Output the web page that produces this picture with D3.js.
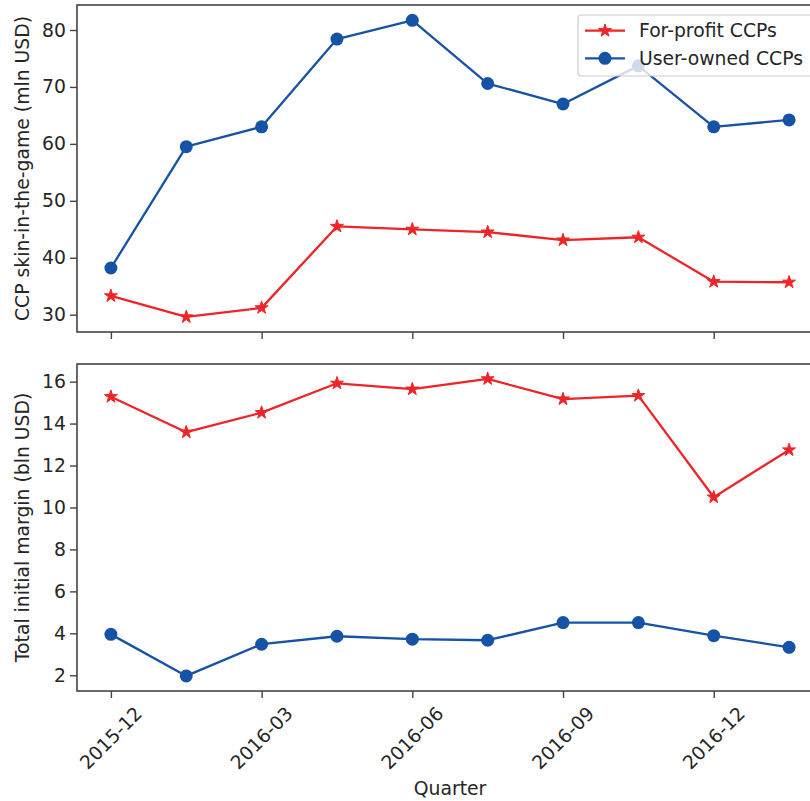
<!DOCTYPE html>
<html>
<head>
<meta charset="utf-8">
<script src="https://cdn.jsdelivr.net/npm/d3@7"></script>
<style>
  body { margin: 0; background: #fff; }
  svg { display: block; font-family: 'DejaVu Sans', sans-serif; }
</style>
</head>
<body>
<div id="chart"></div>
<script>
const quarters = ['2015-12', '2016-01', '2016-03', '2016-04', '2016-06', '2016-07', '2016-09', '2016-10', '2016-12', '2017-01']
const tickLabels = ['2015-12', '2016-03', '2016-06', '2016-09', '2016-12']
const tickIndex = [0, 2, 4, 6, 8]

const skinForProfit = [33.3, 29.6, 31.2, 45.5, 45.0, 44.5, 43.1, 43.6, 35.8, 35.7]
const skinUserOwned = [38.2, 59.5, 63.0, 78.4, 81.7, 70.6, 67.0, 73.7, 63.0, 64.2]
const marginForProfit = [15.28, 13.59, 14.52, 15.92, 15.64, 16.13, 15.17, 15.33, 10.49, 12.74]
const marginUserOwned = [3.95, 1.97, 3.48, 3.86, 3.72, 3.67, 4.51, 4.51, 3.89, 3.33]

const skinTicks = [30, 40, 50, 60, 70, 80]
const marginTicks = [2, 4, 6, 8, 10, 12, 14, 16]

const red = '#ee2528'
const blue = '#1652a5'
const spine = '#444'
const textColor = '#262626'
const fontSize = 18.8

const width = 810
const height = 801

const svg = d3.select('#chart').append('svg')
  .attr('width', width)
  .attr('height', height)

const x = d3.scaleLinear().domain([-0.45, 9.45]).range([77, 823])

const panels = [
  { top: 5, bottom: 332, domain: [26.96, 84.39], ticks: skinTicks, forProfit: skinForProfit, userOwned: skinUserOwned, label: 'CCP skin-in-the-game (mln USD)', xLabels: false },
  { top: 364, bottom: 691, domain: [1.25, 16.84], ticks: marginTicks, forProfit: marginForProfit, userOwned: marginUserOwned, label: 'Total initial margin (bln USD)', xLabels: true },
]

const star = d3.symbol().type(d3.symbolStar).size(52)

function drawSeries(g, values, y, color, kind) {
  const line = d3.line().x((d, i) => x(i)).y(d => y(d))
  g.append('path')
    .datum(values)
    .attr('fill', 'none')
    .attr('stroke', color)
    .attr('stroke-width', 2.3)
    .attr('stroke-linejoin', 'round')
    .attr('d', line)

  if (kind === 'star') {
    g.selectAll(null).data(values).join('path')
      .attr('d', star)
      .attr('transform', (d, i) => `translate(${x(i)},${y(d)})`)
      .attr('fill', color)
      .attr('stroke', color)
      .attr('stroke-width', 1)
  } else {
    g.selectAll(null).data(values).join('circle')
      .attr('cx', (d, i) => x(i))
      .attr('cy', d => y(d))
      .attr('r', 6.5)
      .attr('fill', color)
  }
}

panels.forEach(p => {
  const y = d3.scaleLinear().domain(p.domain).range([p.bottom, p.top])
  const g = svg.append('g')

  const clip = 'clip-' + p.top
  svg.append('clipPath').attr('id', clip)
    .append('rect').attr('x', 0).attr('y', p.top).attr('width', width).attr('height', p.bottom - p.top)

  const series = g.append('g').attr('clip-path', `url(#${clip})`)
  drawSeries(series, p.forProfit, y, red, 'star')
  drawSeries(series, p.userOwned, y, blue, 'circle')

  // frame
  g.append('rect')
    .attr('x', x.range()[0])
    .attr('y', p.top)
    .attr('width', x.range()[1] - x.range()[0])
    .attr('height', p.bottom - p.top)
    .attr('fill', 'none')
    .attr('stroke', spine)
    .attr('stroke-width', 1.6)

  // y axis
  const yAxis = g.append('g')
    .attr('transform', `translate(${x.range()[0]},0)`)
    .call(d3.axisLeft(y).tickValues(p.ticks).tickSize(7).tickPadding(4))
  yAxis.select('.domain').remove()
  yAxis.selectAll('line').attr('stroke', spine).attr('stroke-width', 1.4)
  yAxis.selectAll('text').attr('fill', textColor).style('font-size', fontSize + 'px').style('font-family', 'DejaVu Sans')

  // x axis
  const xAxis = g.append('g')
    .attr('transform', `translate(0,${p.bottom})`)
    .call(d3.axisBottom(x).tickValues(tickIndex).tickSize(7).tickFormat(''))
  xAxis.select('.domain').remove()
  xAxis.selectAll('line').attr('stroke', spine).attr('stroke-width', 1.4)

  if (p.xLabels) {
    g.selectAll(null).data(tickIndex).join('text')
      .attr('transform', (d, i) => `translate(${x(d)},${p.bottom + 47}) rotate(-45)`)
      .attr('text-anchor', 'middle')
      .attr('dy', '0.35em')
      .attr('fill', textColor)
      .style('font-size', fontSize + 'px')
      .text((d, i) => tickLabels[i])
  }

  g.append('text')
    .attr('transform', `translate(22,${(p.top + p.bottom) / 2}) rotate(-90)`)
    .attr('text-anchor', 'middle')
    .attr('dy', '0.35em')
    .attr('fill', textColor)
    .style('font-size', fontSize + 'px')
    .text(p.label)
})

svg.append('text')
  .attr('x', (x.range()[0] + x.range()[1]) / 2)
  .attr('y', 788)
  .attr('dy', '0.35em')
  .attr('text-anchor', 'middle')
  .attr('fill', textColor)
  .style('font-size', fontSize + 'px')
  .text('Quarter')

// legend
const legendItems = [
  { name: 'For-profit CCPs', color: red, kind: 'star' },
  { name: 'User-owned CCPs', color: blue, kind: 'circle' },
]
const legend = svg.append('g')
legend.append('rect')
  .attr('x', 578).attr('y', 15)
  .attr('width', 260).attr('height', 61)
  .attr('rx', 3)
  .attr('fill', '#fff').attr('fill-opacity', 0.8)
  .attr('stroke', '#ccc').attr('stroke-width', 1.2)

legendItems.forEach((d, i) => {
  const cy = 30.7 + i * 27.6
  legend.append('line')
    .attr('x1', 585).attr('x2', 625)
    .attr('y1', cy).attr('y2', cy)
    .attr('stroke', d.color).attr('stroke-width', 2.3)
  if (d.kind === 'star') {
    legend.append('path').attr('d', star).attr('transform', `translate(605,${cy})`)
      .attr('fill', d.color).attr('stroke', d.color).attr('stroke-width', 1)
  } else {
    legend.append('circle').attr('cx', 605).attr('cy', cy).attr('r', 6.5).attr('fill', d.color)
  }
  legend.append('text')
    .attr('x', 639).attr('y', cy)
    .attr('dy', '0.35em')
    .attr('fill', textColor)
    .style('font-size', fontSize + 'px')
    .text(d.name)
})
</script>
</body>
</html>
